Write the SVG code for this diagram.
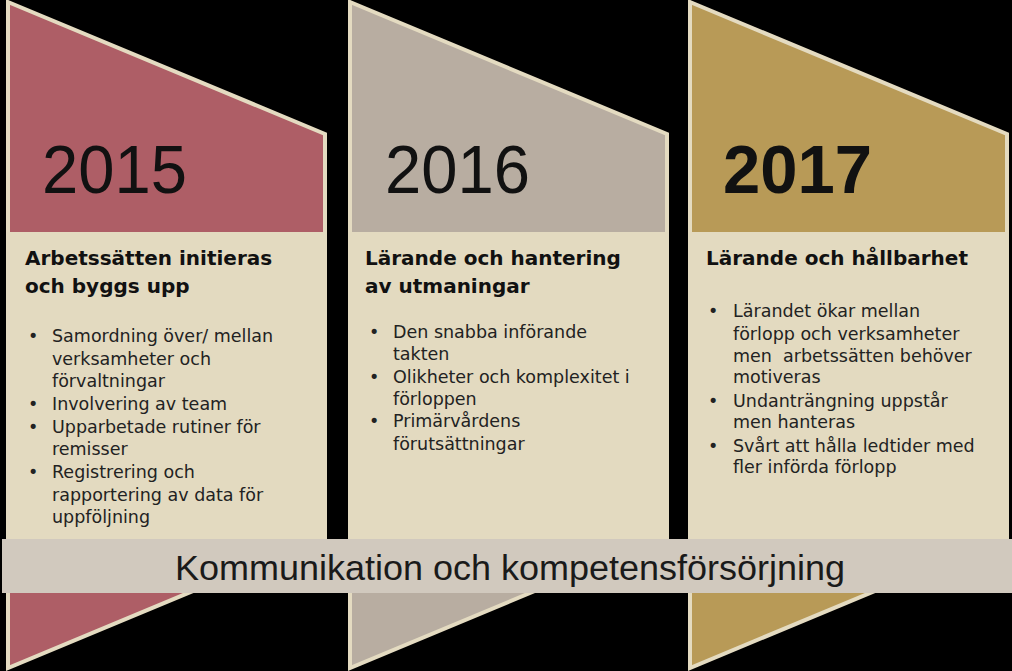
<svg xmlns="http://www.w3.org/2000/svg" width="1012" height="671" viewBox="0 0 1012 671">
<style>
.col{stroke:#E4DBC1;stroke-width:4;stroke-linejoin:miter}
.box{fill:#E3DAC0}
.year{font-family:"Liberation Sans",Arial,sans-serif;font-size:68px;fill:#111}
.yearb{font-family:"Liberation Sans",Arial,sans-serif;font-size:68px;font-weight:bold;fill:#111}
.head{font-family:"DejaVu Sans",sans-serif;font-size:20px;font-weight:bold;fill:#111}
.body{font-family:"DejaVu Sans",sans-serif;font-size:17.5px;fill:#222}
.band{font-family:"Liberation Sans",Arial,sans-serif;font-size:35px;fill:#1a1a1a}
.pre{white-space:pre}
</style>
<rect x="0" y="0" width="1012" height="671" fill="#000"/>
<g id="col2015">
<polygon class="col" fill="#AE5E66" points="8,2 325,134 325,536 8,668"/>
<rect class="box" x="6" y="232" width="321" height="308"/>
<text class="year" x="42" y="193" textLength="145" lengthAdjust="spacingAndGlyphs">2015</text>
<text class="head" x="25" y="265">Arbetssätten initieras</text>
<text class="head" x="25" y="293">och byggs upp</text>
<g class="body">
<text x="28" y="342">•</text><text x="52" y="342">Samordning över/ mellan</text>
<text x="52" y="365">verksamheter och</text>
<text x="52" y="387">förvaltningar</text>
<text x="28" y="410">•</text><text x="52" y="410">Involvering av team</text>
<text x="28" y="433">•</text><text x="52" y="433">Upparbetade rutiner för</text>
<text x="52" y="455">remisser</text>
<text x="28" y="478">•</text><text x="52" y="478">Registrering och</text>
<text x="52" y="501">rapportering av data för</text>
<text x="52" y="523">uppföljning</text>
</g>
</g>
<g id="col2016">
<polygon class="col" fill="#B8ADA1" points="350,2 667,134 667,536 350,668"/>
<rect class="box" x="348" y="232" width="321" height="308"/>
<text class="year" x="385" y="193" textLength="145" lengthAdjust="spacingAndGlyphs">2016</text>
<text class="head" x="365" y="265">Lärande och hantering</text>
<text class="head" x="365" y="293">av utmaningar</text>
<g class="body">
<text x="369" y="338">•</text><text x="393" y="338">Den snabba införande</text>
<text x="393" y="360">takten</text>
<text x="369" y="383">•</text><text x="393" y="383">Olikheter och komplexitet i</text>
<text x="393" y="405">förloppen</text>
<text x="369" y="427">•</text><text x="393" y="427">Primärvårdens</text>
<text x="393" y="450">förutsättningar</text>
</g>
</g>
<g id="col2017">
<polygon class="col" fill="#B89A57" points="690,2 1007,134 1007,536 690,668"/>
<rect class="box" x="688" y="232" width="321" height="308"/>
<text class="yearb" x="723" y="193" textLength="149" lengthAdjust="spacingAndGlyphs">2017</text>
<text class="head" x="706" y="265">Lärande och hållbarhet</text>
<g class="body">
<text x="708" y="317">•</text><text x="733" y="317">Lärandet ökar mellan</text>
<text x="733" y="340">förlopp och verksamheter</text>
<text class="pre" x="733" y="362">men  arbetssätten behöver</text>
<text x="733" y="383">motiveras</text>
<text x="708" y="407">•</text><text x="733" y="407">Undanträngning uppstår</text>
<text x="733" y="428">men hanteras</text>
<text x="708" y="452">•</text><text x="733" y="452">Svårt att hålla ledtider med</text>
<text x="733" y="473">fler införda förlopp</text>
</g>
</g>
<g id="band">
<rect x="2" y="539" width="1010" height="54" fill="#D1C9BE"/>
<text class="band" x="175" y="580" textLength="670" lengthAdjust="spacingAndGlyphs">Kommunikation och kompetensförsörjning</text>
</g>
<g id="connectors"/>
</svg>
